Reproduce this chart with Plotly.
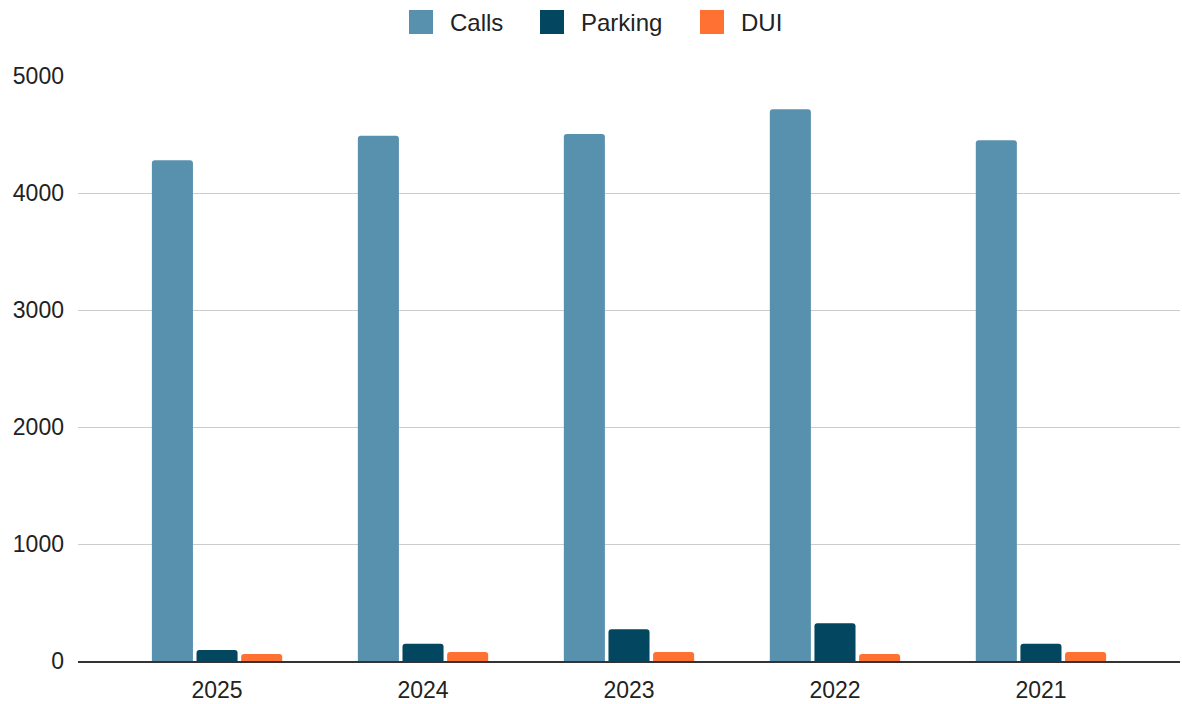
import plotly.graph_objects as go

years = ["2025", "2024", "2023", "2022", "2021"]
calls = [4280, 4490, 4505, 4715, 4450]
parking = [94, 148, 271, 322, 148]
dui = [60, 77, 77, 60, 77]

series = ["Calls", "Parking", "DUI"]
colors = {"Calls": "#5891ae", "Parking": "#03465f", "DUI": "#ff7132"}

W, H = 1182, 704
L, R, T, B = 78, 2, 76, 43
FONT = "Liberation Sans, Arial, sans-serif"

fig = go.Figure()
for name, vals in zip(series, [calls, parking, dui]):
    fig.add_trace(go.Bar(x=years, y=vals, name=name, marker_color=colors[name],
                         marker_line_width=0, showlegend=False))

# manual legend (large squares like the reference)
pw, ph = W - L - R, H - T - B
def px(x):
    return (x - L) / pw
def py(y):
    return (H - B - y) / ph

legend_items = [("Calls", 409, 450), ("Parking", 540, 581), ("DUI", 700, 741)]
shapes, annos = [], []
for name, sx, tx in legend_items:
    shapes.append(dict(type="rect", xref="paper", yref="paper",
                       x0=px(sx), x1=px(sx + 24), y0=py(34), y1=py(10),
                       fillcolor=colors[name], line=dict(width=0)))
    annos.append(dict(text=name, xref="paper", yref="paper", x=px(tx - 2), y=py(22),
                      xanchor="left", yanchor="middle", showarrow=False,
                      font=dict(family=FONT, size=24, color="#222222")))

fig.update_layout(
    width=W, height=H,
    paper_bgcolor="white", plot_bgcolor="white",
    margin=dict(l=L, r=R, t=T, b=B),
    barmode="group", bargap=0.35, bargroupgap=0.08, barcornerradius=3,
    font=dict(family=FONT, size=23, color="#222222"),
    shapes=shapes, annotations=annos,
    showlegend=False,
)
fig.update_xaxes(range=[-0.675, 4.675], showline=True, linecolor="#333333", linewidth=2,
                 showgrid=False, ticks="", ticklabelstandoff=7, tickfont=dict(size=23),
                 automargin=False)
fig.update_yaxes(range=[0, 5000], tickvals=[0, 1000, 2000, 3000, 4000, 5000],
                 showgrid=True, gridcolor="#cccccc", gridwidth=1, zeroline=False,
                 ticks="", ticklabelstandoff=13, tickfont=dict(size=23),
                 automargin=False)

fig.write_html("out.html", config={"displayModeBar": False},
               post_script="document.body.style.margin='0';document.body.style.overflow='hidden';")
